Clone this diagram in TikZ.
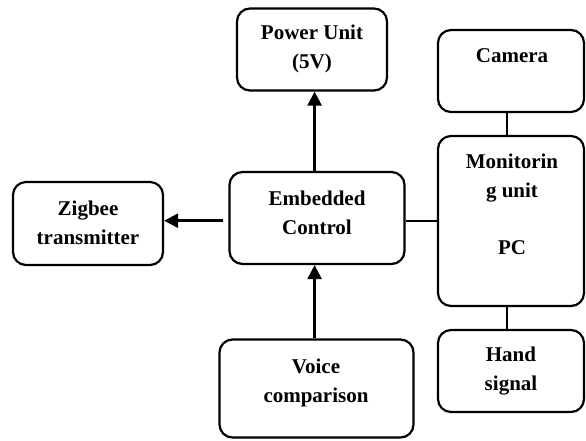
\documentclass[tikz,border=0pt]{standalone}
\usepackage{fontspec}
\setmainfont{Liberation Serif}
\usetikzlibrary{arrows.meta}
\begin{document}
\begin{tikzpicture}[x=1pt,y=-1pt,
  box/.style={draw=black,line width=2.2pt,rounded corners=13pt,inner sep=0pt},
  lbl/.style={align=center,inner sep=0pt,font=\fontsize{21}{28.5}\selectfont\bfseries},
  arr/.style={line width=2.5pt,-{Triangle[length=14pt,width=14pt]}},
  plain/.style={line width=1.9pt}]
\useasboundingbox (0,0) rectangle (586,440);
% boxes
\node[box,minimum width=150pt,minimum height=82pt] (pw) at (312,49.5) {};
\node[box,minimum width=146pt,minimum height=82pt] (cam) at (511,71) {};
\node[box,minimum width=146pt,minimum height=170pt] (mon) at (511,221) {};
\node[box,minimum width=146pt,minimum height=82pt] (hand) at (511,371) {};
\node[box,minimum width=150pt,minimum height=83pt] (zig) at (88,223.5) {};
\node[box,minimum width=175pt,minimum height=92pt] (emb) at (317,218) {};
\node[box,minimum width=194pt,minimum height=98pt] (voice) at (316.5,388.5) {};
% labels
\node[lbl] (pwt) at (312,49) {Power Unit\\(5V)};
\node[lbl] (camt) at (512,56) {Camera};
\node[lbl] (mont1) at (512,178) {Monitorin\\g unit};
\node[lbl] (mont2) at (512,248) {PC};
\node[lbl] (handt) at (511,371) {Hand\\signal};
\node[lbl] (zigt) at (88,223) {Zigbee\\transmitter};
\node[lbl] (embt) at (317,213) {Embedded\\Control};
\node[lbl] (voicet) at (316,383) {Voice\\comparison};
% connectors
\draw[arr] (314.6,0 |- emb.north) -- (314.6,0 |- pw.south);
\draw[arr] (314.6,0 |- voice.north) -- (314.6,0 |- emb.south);
\draw[arr,shorten <=5pt] (emb.west |- 0,220.7) -- (zig.east |- 0,220.7);
\draw[plain] (emb.east |- 0,220.7) -- (mon.west |- 0,220.7);
\draw[plain] (506.7,0 |- cam.south) -- (506.7,0 |- mon.north);
\draw[plain] (506.7,0 |- mon.south) -- (506.7,0 |- hand.north);
\end{tikzpicture}
\end{document}
